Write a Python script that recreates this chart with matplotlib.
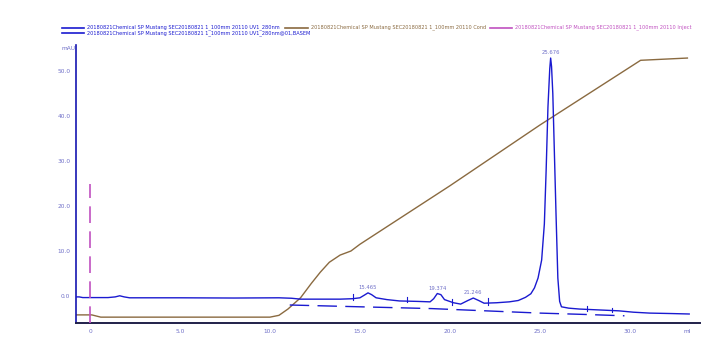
import matplotlib
matplotlib.use("Agg")
import matplotlib.pyplot as plt

# ---- data ----
uv_x = [-0.75, -0.6, -0.4, 0.0, 1.0, 1.4, 1.65, 1.9, 2.2, 5.0, 8.0, 10.5, 11.2, 11.7, 13.9,
        14.6, 15.0, 15.25, 15.45, 15.65, 15.9, 16.5, 17.2, 18.2, 18.9, 19.1, 19.3, 19.5, 19.7,
        20.2, 20.6, 21.0, 21.3, 21.6, 21.9, 22.6, 23.3, 23.8, 24.2, 24.5, 24.7, 24.9, 25.1,
        25.25, 25.35, 25.45, 25.55, 25.6, 25.65, 25.72, 25.8, 25.9, 26.0, 26.1, 26.2, 26.6,
        27.2, 28.3, 29.4, 30.2, 31.1, 32.3, 33.3]
uv_y = [-0.2, -0.2, -0.35, -0.35, -0.35, -0.2, 0.05, -0.2, -0.4, -0.4, -0.45, -0.4, -0.5, -0.7, -0.7,
        -0.6, -0.4, 0.2, 0.7, 0.3, -0.4, -0.8, -1.1, -1.2, -1.3, -0.6, 0.55, 0.3, -0.8,
        -1.5, -1.8, -1.0, -0.45, -1.0, -1.6, -1.5, -1.3, -1.0, -0.3, 0.5, 1.8, 4.0, 8.0,
        16.0, 28.0, 42.0, 50.5, 52.9, 51.0, 45.0, 33.0, 18.0, 4.0, -1.2, -2.4, -2.7,
        -2.9, -3.1, -3.3, -3.6, -3.8, -3.9, -4.0]

base_x = [11.1, 15.0, 19.0, 22.0, 25.0, 27.5, 29.7]
base_y = [-2.0, -2.4, -2.8, -3.3, -3.8, -4.1, -4.4]

cond_x = [-0.75, 0.1, 0.6, 10.0, 10.5, 11.0, 11.7, 12.3, 12.8, 13.3, 13.9, 14.5, 15.0,
          20.0, 25.0, 30.6, 33.2]
cond_y = [-4.2, -4.2, -4.7, -4.7, -4.3, -2.9, -0.4, 2.8, 5.3, 7.5, 9.1, 10.0, 11.5,
          24.5, 38.0, 52.4, 52.9]

inject_x = 0.0
inject_y = [-6.0, 25.0]

peak_x = [15.45, 19.3, 21.3, 25.6]
peak_y = [0.7, 0.55, -0.45, 52.9]
peak_labels = ["15.465", "19.374", "21.246", "25.676"]

marker_x = [14.6, 17.6, 20.1, 22.1, 27.6, 29.0]
marker_lo = [-0.9, -1.4, -2.0, -1.9, -3.3, -3.6]
marker_hi = [0.4, -0.2, -0.6, -0.5, -2.2, -2.6]

x_ticks = [0, 5, 10, 15, 20, 25, 30]
x_tick_labels = ["0", "5.0", "10.0", "15.0", "20.0", "25.0", "30.0"]
y_ticks = [0, 10, 20, 30, 40, 50]
y_tick_labels = ["0.0", "10.0", "20.0", "30.0", "40.0", "50.0"]

legend_uv = "20180821Chemical SP Mustang SEC20180821 1_100mm 20110 UV1_280nm"
legend_base = "20180821Chemical SP Mustang SEC20180821 1_100mm 20110 UV1_280nm@01,BASEM"
legend_cond = "20180821Chemical SP Mustang SEC20180821 1_100mm 20110 Cond"
legend_inj = "20180821Chemical SP Mustang SEC20180821 1_100mm 20110 Inject"

# ---- styling ----
BLUE = "#1a1ad0"
BROWN = "#8a6a40"
PINK = "#c050c0"
TICKC = "#7070c8"

fig = plt.figure(figsize=(7.08, 3.6), dpi=100)
ax = fig.add_axes([0.1073, 0.1028, 0.8814, 0.7722])
ax.set_xlim(-0.78, 33.9)
ax.set_ylim(-6.0, 55.8)

ax.plot(cond_x, cond_y, color=BROWN, lw=1.0, zorder=2)
ax.plot(base_x, base_y, color=BLUE, lw=1.0, dashes=(14, 6), zorder=3)
ax.plot(uv_x, uv_y, color=BLUE, lw=1.0, zorder=4)
ax.plot([inject_x, inject_x], inject_y, color=PINK, lw=1.2, dashes=(10, 5), zorder=5)

for mx, lo, hi in zip(marker_x, marker_lo, marker_hi):
    ax.plot([mx, mx], [lo, hi], color=BLUE, lw=0.8, zorder=4)

for px, py, lab in zip(peak_x, peak_y, peak_labels):
    ax.annotate(lab, (px, py), xytext=(0, 2), textcoords="offset points",
                ha="center", va="bottom", fontsize=3.8, color=TICKC)

for s in ["top", "right"]:
    ax.spines[s].set_visible(False)
ax.spines["left"].set_color("#1515b0")
ax.spines["left"].set_linewidth(1.2)
ax.spines["bottom"].set_color("#20204a")
ax.spines["bottom"].set_linewidth(1.4)

ax.set_xticks(x_ticks)
ax.set_xticklabels(x_tick_labels)
ax.set_yticks(y_ticks)
ax.set_yticklabels(y_tick_labels)
ax.tick_params(axis="both", labelsize=4.2, labelcolor=TICKC, length=0, pad=4)
ax.text(33.2, -7.3, "ml", ha="center", va="top",
        fontsize=4.2, color=TICKC, clip_on=False)
fig.text(62 / 708, 1 - 48 / 360, "mAU", fontsize=4.2, color=TICKC, ha="left", va="center")

# ---- legend-like header ----
def leg(x0, x1, y, color, label):
    fig.add_artist(plt.Line2D([x0 / 708, x1 / 708], [1 - y / 360, 1 - y / 360],
                              color=color, lw=1.2))
    fig.text((x1 + 3) / 708, 1 - y / 360, label, fontsize=3.6, color=color,
             ha="left", va="center")

leg(62, 84, 27.5, BLUE, legend_uv)
leg(62, 84, 33, BLUE, legend_base)
leg(285, 308, 27.5, BROWN, legend_cond)
leg(490, 512, 27.5, PINK, legend_inj)

fig.savefig("out.png", dpi=100)
